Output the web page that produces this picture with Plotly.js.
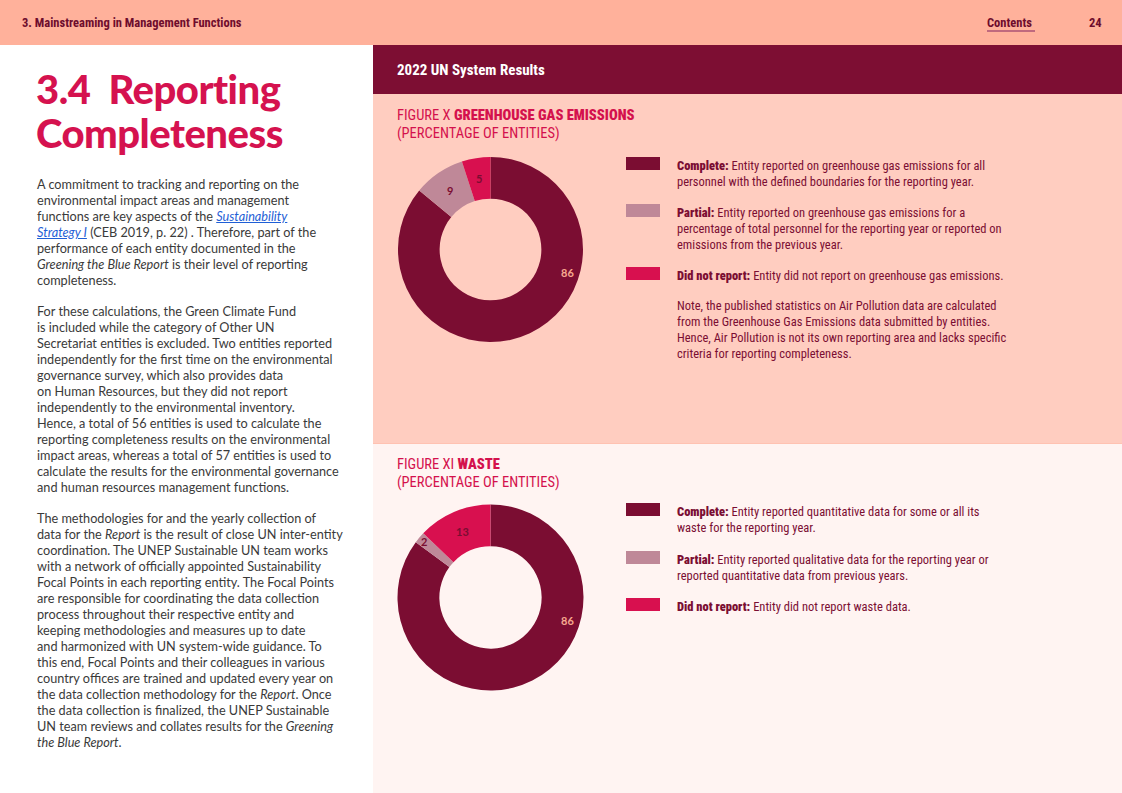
<!DOCTYPE html>
<html><head><meta charset="utf-8">
<script src="https://cdn.plot.ly/plotly-3.0.1.min.js"></script>
<style>
html,body{margin:0;padding:0;}
body{width:1122px;height:793px;position:relative;overflow:hidden;background:#fff;font-family:Lato,"Open Sans",sans-serif;}
.abs{position:absolute;white-space:nowrap;}
.cond{font-family:"Roboto Condensed","Liberation Sans Narrow","DejaVu Sans Condensed",Roboto,sans-serif;font-stretch:condensed;}
#header{left:0;top:0;width:1122px;height:45px;background:#FFB19B;}
.htxt{font-size:12.5px;line-height:16px;font-weight:700;color:#6E0C2D;}
#band{left:373px;top:45px;width:749px;height:49px;background:#7D0E33;}
#topPanel{left:373px;top:94px;width:749px;height:349px;background:#FFCDC0;}
#botPanel{left:373px;top:443px;width:749px;height:350px;background:#FFF4F2;border-top:1px solid #FFC2B2;box-sizing:border-box;}
.title{font-size:40px;line-height:44px;font-weight:900;color:#D5124F;letter-spacing:-0.5px;}
.body{font-size:12.7px;line-height:16px;color:#3A3A3A;}
.body a{color:#1F5FD6;text-decoration:underline;font-style:italic;}
.figt{font-size:14.5px;line-height:18px;color:#D4114D;}
.figt b{font-weight:900;}
.leg{font-size:12.5px;line-height:16px;color:#7B0E33;}
.leg b{font-weight:900;}
.sw{position:absolute;width:34px;height:13px;}
#chart{position:absolute;left:0;top:0;width:1122px;height:793px;z-index:5;pointer-events:none;}
</style>
</head>
<body>
<div id="header" class="abs"></div>
<div class="abs cond htxt" style="left:22px;top:15px;">3. Mainstreaming in Management Functions</div>
<div class="abs cond htxt" style="left:987px;top:15px;">Contents</div>
<div class="abs" style="left:987px;top:30px;width:48px;height:2px;background:#C0697E;"></div>
<div class="abs cond htxt" style="left:1089px;top:15px;">24</div>

<div id="band" class="abs"></div>
<div class="abs cond" style="left:397px;top:61px;font-size:15px;line-height:18px;font-weight:700;color:#fff;">2022 UN System Results</div>
<div id="topPanel" class="abs"></div>
<div id="botPanel" class="abs"></div>

<div class="abs title" style="left:36px;top:67px;">3.4&nbsp; Reporting<br>Completeness</div>

<div class="abs body" style="left:37px;top:176px;">A commitment to tracking and reporting on the<br>environmental impact areas and management<br>functions are key aspects of the <a>Sustainability</a><br><a>Strategy I</a> (CEB 2019, p. 22) . Therefore, part of the<br>performance of each entity documented in the<br><i>Greening the Blue Report</i> is their level of reporting<br>completeness.</div>

<div class="abs body" style="left:37px;top:303px;">For these calculations, the Green Climate Fund<br>is included while the category of Other UN<br>Secretariat entities is excluded. Two entities reported<br>independently for the first time on the environmental<br>governance survey, which also provides data<br>on Human Resources, but they did not report<br>independently to the environmental inventory.<br>Hence, a total of 56 entities is used to calculate the<br>reporting completeness results on the environmental<br>impact areas, whereas a total of 57 entities is used to<br>calculate the results for the environmental governance<br>and human resources management functions.</div>

<div class="abs body" style="left:37px;top:510px;">The methodologies for and the yearly collection of<br>data for the <i>Report</i> is the result of close UN inter-entity<br>coordination. The UNEP Sustainable UN team works<br>with a network of officially appointed Sustainability<br>Focal Points in each reporting entity. The Focal Points<br>are responsible for coordinating the data collection<br>process throughout their respective entity and<br>keeping methodologies and measures up to date<br>and harmonized with UN system-wide guidance. To<br>this end, Focal Points and their colleagues in various<br>country offices are trained and updated every year on<br>the data collection methodology for the <i>Report</i>. Once<br>the data collection is finalized, the UNEP Sustainable<br>UN team reviews and collates results for the <i>Greening<br>the Blue Report</i>.</div>

<div class="abs cond figt" style="left:397px;top:107px;">FIGURE X <b>GREENHOUSE GAS EMISSIONS</b><br>(PERCENTAGE OF ENTITIES)</div>
<div class="abs cond figt" style="left:397px;top:456px;">FIGURE XI <b>WASTE</b><br>(PERCENTAGE OF ENTITIES)</div>

<div id="legends"></div>
<div class="abs cond leg" style="left:677px;top:298px;">Note, the published statistics on Air Pollution data are calculated<br>from the Greenhouse Gas Emissions data submitted by entities.<br>Hence, Air Pollution is not its own reporting area and lacks specific<br>criteria for reporting completeness.</div>

<div id="chart"></div>

<script>
// ---- data ----
const categories = ['Complete', 'Partial', 'Did not report'];
const ghgValues = [86, 9, 5];
const wasteValues = [86, 2, 13];
const ghgDescriptions = [
  'Entity reported on greenhouse gas emissions for all<br>personnel with the defined boundaries for the reporting year.',
  'Entity reported on greenhouse gas emissions for a<br>percentage of total personnel for the reporting year or reported on<br>emissions from the previous year.',
  'Entity did not report on greenhouse gas emissions.'
];
const wasteDescriptions = [
  'Entity reported quantitative data for some or all its<br>waste for the reporting year.',
  'Entity reported qualitative data for the reporting year or<br>reported quantitative data from previous years.',
  'Entity did not report waste data.'
];

// ---- style ----
const sliceColors = ['#7B0D32', '#BF8898', '#D8104F'];
const labelColors = ['#F6A88E', '#7B0D32', '#7B0D32'];
const W = 1122, H = 793, HOLE = 0.55;
const ghgGeom = {cx: 490.5, cy: 249.5, R: 92.5};
const wasteGeom = {cx: 490.5, cy: 597.5, R: 93};
const ghgLegendTops = [158, 205, 268];
const wasteLegendTops = [504, 552, 599];

// legends
const legRoot = document.getElementById('legends');
function buildLegend(descs, tops) {
  categories.forEach((c, i) => {
    const sw = document.createElement('div');
    sw.className = 'sw';
    sw.style.left = '626px';
    sw.style.top = (tops[i] - 1) + 'px';
    sw.style.background = sliceColors[i];
    legRoot.appendChild(sw);
    const t = document.createElement('div');
    t.className = 'abs cond leg';
    t.style.left = '677px';
    t.style.top = tops[i] + 'px';
    t.innerHTML = '<b>' + c + ':</b> ' + descs[i];
    legRoot.appendChild(t);
  });
}
buildLegend(ghgDescriptions, ghgLegendTops);
buildLegend(wasteDescriptions, wasteLegendTops);

function domainOf(g) {
  return {x: [(g.cx - g.R) / W, (g.cx + g.R) / W], y: [1 - (g.cy + g.R) / H, 1 - (g.cy - g.R) / H]};
}
function pieTrace(values, g) {
  return {
    type: 'pie', values: values, labels: categories, sort: false,
    direction: 'clockwise', rotation: 0, hole: HOLE,
    marker: {colors: sliceColors, line: {width: 0}},
    textinfo: 'none', hoverinfo: 'skip', showlegend: false,
    domain: domainOf(g)
  };
}
function labelAnnots(values, g) {
  const total = values.reduce((a, b) => a + b, 0);
  let cum = 0;
  return values.map((v, i) => {
    let ang = (cum + v / 2) / total * 360;
    cum += v;
    let r = g.R * (1 + HOLE) / 2;
    if (i === 0) { ang = 106.5; r = g.R * 0.865; }
    else if (v / total < 0.04) { r = g.R * 0.94; }
    const rad = ang * Math.PI / 180;
    const px = g.cx + r * Math.sin(rad), py = g.cy - r * Math.cos(rad);
    return {x: px / W, y: 1 - py / H, xref: 'paper', yref: 'paper', showarrow: false,
      text: '<b>' + v + '</b>', xanchor: 'center', yanchor: 'middle',
      font: {family: 'Lato, sans-serif', size: 11, color: labelColors[i]}};
  });
}

Plotly.newPlot('chart', [pieTrace(ghgValues, ghgGeom), pieTrace(wasteValues, wasteGeom)], {
  width: W, height: H, margin: {l: 0, r: 0, t: 0, b: 0},
  paper_bgcolor: 'rgba(0,0,0,0)', plot_bgcolor: 'rgba(0,0,0,0)',
  showlegend: false,
  annotations: labelAnnots(ghgValues, ghgGeom).concat(labelAnnots(wasteValues, wasteGeom))
}, {staticPlot: true, displayModeBar: false});
</script>
</body></html>
